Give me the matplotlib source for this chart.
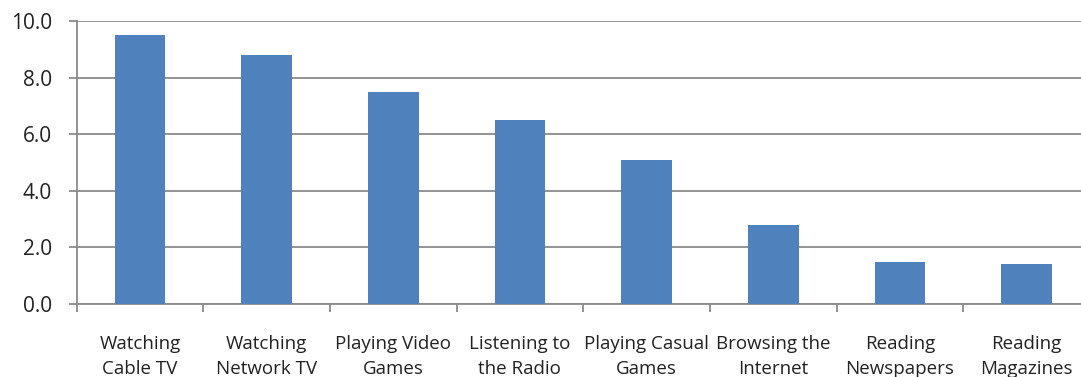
import matplotlib
matplotlib.use("Agg")
import matplotlib.pyplot as plt
import numpy as np

categories = ["Watching\nCable TV", "Watching\nNetwork TV", "Playing Video\nGames",
              "Listening to\nthe Radio", "Playing Casual\nGames", "Browsing the\nInternet",
              "Reading\nNewspapers", "Reading\nMagazines"]
values = [9.5, 8.8, 7.5, 6.5, 5.1, 2.8, 1.5, 1.4]
yticks = [0, 2, 4, 6, 8, 10]

plt.rcParams['font.family'] = ['Open Sans', 'DejaVu Sans']

fig = plt.figure(figsize=(10.81, 3.77), dpi=100)
ax = fig.add_axes([76.5/1081, (377-304)/377, (1090-76.5)/1081, (304-21)/377])

grey = "#8A8A8A"
x = np.arange(len(categories))
ax.bar(x, values, width=0.4, color="#4F81BD", zorder=3)
ax.set_xlim(-0.5, len(categories) - 0.5)
ax.set_ylim(0, 10)
ax.set_yticks(yticks)
ax.set_yticklabels([f"{v:.1f}" for v in yticks], fontsize=15, color="#222222")
ax.yaxis.grid(True, color=grey, linewidth=1.3, zorder=0)

ax.set_xticks(x)
ax.set_xticklabels(categories, fontsize=13.5, color="#222222", linespacing=1.45)
ax.tick_params(axis='x', length=0, pad=22.5)
ax.set_xticks(np.arange(len(categories) + 1) - 0.5, minor=True)
ax.tick_params(axis='x', which='minor', length=6, color=grey, width=1.3)
ax.tick_params(axis='y', length=6, color=grey, width=1.3, pad=11.5)

for s in ['top', 'right']:
    ax.spines[s].set_visible(False)
for s in ['left', 'bottom']:
    ax.spines[s].set_color(grey)
    ax.spines[s].set_linewidth(1.3)

fig.savefig("out.png", dpi=100)
